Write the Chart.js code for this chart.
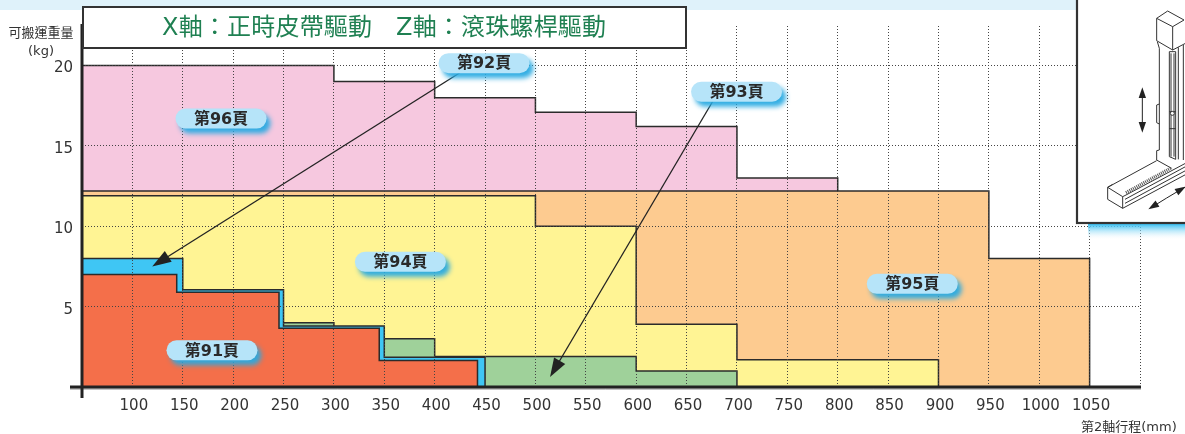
<!DOCTYPE html>
<html>
<head>
<meta charset="utf-8">
<script src="https://cdn.jsdelivr.net/npm/chart.js@4"></script>
<style>
    body { margin: 0; background: #fff; overflow: hidden; }
    #wrap { position: relative; width: 1185px; height: 434px; overflow: hidden; font-family: "DejaVu Sans", "Noto Sans CJK TC", sans-serif; }
    #band { position: absolute; left: 0; top: 0; width: 1185px; height: 10px; background: #dff2fa; }
    #myChart { position: absolute; left: 0; top: 0; }
    #title { position: absolute; left: 82px; top: 6px; width: 601px; height: 39px; background: #fff; border: 2px solid #333;
        color: #1f8052; font-size: 24px; letter-spacing: 0.2px; line-height: 39px; white-space: nowrap; }
    #title span { position: absolute; top: 0; }
    .note { position: absolute; color: #333; font-size: 13px; line-height: 16px; white-space: nowrap; }
</style>
</head>
<body>
<div id="wrap">
    <div id="band"></div>
    <canvas id="myChart" width="1185" height="434"></canvas>
    <div id="title"><span style="left:78px">X軸：正時皮帶驅動</span><span style="left:312px">Z軸：滾珠螺桿驅動</span></div>
    <div class="note" style="left:8px;top:25px;width:66px;text-align:center">可搬運重量</div>
    <div class="note" style="left:8px;top:43px;width:66px;text-align:center">(kg)</div>
    <div class="note" style="left:1081px;top:419px">第2軸行程(mm)</div>
</div>
<script>
// stroke (mm) where each step starts, and the load (kg) of that step
const redStroke = [50, 144, 245.5, 345, 442.5];
const redLoad = [7, 5.9, 3.65, 1.65, 0];
const blueStroke = [50, 150, 250, 350, 450];
const blueLoad = [8, 6.05, 3.8, 1.85, 0];
const greenStroke = [50, 300, 400, 600, 700];
const greenLoad = [4, 3, 1.9, 1, 0];
const yellowStroke = [50, 500, 600, 700, 900];
const yellowLoad = [11.9, 10, 3.9, 1.7, 0];
const orangeStroke = [50, 950, 1050];
const orangeLoad = [12.2, 8, 0];
const pinkStroke = [50, 300, 400, 500, 600, 700, 800];
const pinkLoad = [20, 19, 18, 17.1, 16.2, 13, 0];

const xTicks = [100, 150, 200, 250, 300, 350, 400, 450, 500, 550, 600, 650, 700, 750, 800, 850, 900, 950, 1000, 1050];
const yTicks = [5, 10, 15, 20];

function steps(xs, ys) {
    return xs.map((x, i) => ({ x: x, y: ys[i] }));
}

function series(xs, ys, color) {
    return {
        data: steps(xs, ys),
        stepped: 'before',
        fill: 'origin',
        backgroundColor: color,
        borderColor: '#2b2b2b',
        borderWidth: 1.5,
        pointRadius: 0
    };
}

// page labels and arrows, in chart units
const pageLabels = [
    { text: '第96頁', x: 188, y: 16.7 },
    { text: '第94頁', x: 366, y: 7.79 },
    { text: '第91頁', x: 179, y: 2.28 },
    { text: '第95頁', x: 874, y: 6.42 }
];
const arrows = [
    { from: [425, 19.55], to: [119.7, 7.5], text: '第92頁', x: 449, y: 20.15 },
    { from: [676, 17.78], to: [514.5, 0.62], text: '第93頁', x: 699.6, y: 18.37 }
];

function drawArrow(ctx, x1, y1, x2, y2, head = 20) {
    const a = Math.atan2(y2 - y1, x2 - x1);
    ctx.strokeStyle = '#222';
    ctx.fillStyle = '#222';
    ctx.lineWidth = head > 20 ? 3 : 1.3;
    ctx.beginPath();
    ctx.moveTo(x1, y1);
    ctx.lineTo(x2 - 0.7 * head * Math.cos(a), y2 - 0.7 * head * Math.sin(a));
    ctx.stroke();
    ctx.beginPath();
    ctx.moveTo(x2, y2);
    ctx.lineTo(x2 - head * Math.cos(a - 0.33), y2 - head * Math.sin(a - 0.33));
    ctx.lineTo(x2 - head * Math.cos(a + 0.33), y2 - head * Math.sin(a + 0.33));
    ctx.closePath();
    ctx.fill();
}

function drawBubble(ctx, text, cx, cy) {
    ctx.save();
    ctx.shadowColor = 'rgba(40, 170, 225, 0.95)';
    ctx.shadowBlur = 5;
    ctx.shadowOffsetX = 4;
    ctx.shadowOffsetY = 5;
    ctx.fillStyle = '#b6e4f9';
    ctx.beginPath();
    ctx.roundRect(cx - 45.5, cy - 10, 91, 20, 10);
    ctx.fill();
    ctx.restore();
    ctx.fillStyle = '#2a2a2a';
    ctx.textAlign = 'center';
    ctx.textBaseline = 'middle';
    ctx.font = 'bold 16px "DejaVu Sans", "Noto Sans CJK TC"';
    ctx.fillText(text, cx, cy + 1);
}

// little line drawing of the two axis unit, traced in a 3x grid
const sketchLines = [
    [[350, 55], [383, 33], [432, 60], [398, 80], [350, 55]],
    [[350, 55], [350, 122], [398, 150], [398, 80]],
    [[398, 150], [440, 128]],
    [[352, 125], [358, 145], [358, 450], [350, 452], [350, 480], [395, 505]],
    [[388, 155], [388, 470], [407, 478], [407, 155], [388, 155]],
    [[393, 160], [393, 470]],
    [[402, 160], [402, 470]],
    [[415, 142], [415, 478]],
    [[430, 135], [430, 480]],
    [[358, 312], [350, 315], [350, 368], [358, 372]],
    [[388, 335], [407, 335]],
    [[388, 386], [407, 386]],
    [[203, 562], [350, 482]],
    [[203, 562], [203, 598], [248, 625], [248, 590], [203, 562]],
    [[203, 562], [218, 553]],
    [[248, 590], [258, 585], [440, 488]],
    [[248, 625], [440, 522]],
    [[255, 610], [440, 510]],
    [[255, 598], [440, 498]]
];

function drawSketch(ctx) {
    ctx.save();
    ctx.strokeStyle = '#333';
    ctx.lineWidth = 2.2;
    const g = ctx.createLinearGradient(0, 224, 0, 240);
    g.addColorStop(0, '#35bdf0');
    g.addColorStop(1, 'rgba(255, 255, 255, 0)');
    ctx.fillStyle = g;
    ctx.fillRect(1088, 224, 97, 16);
    ctx.fillStyle = '#fff';
    ctx.fillRect(1077, -2, 112, 225);
    ctx.strokeRect(1077, -2, 112, 225);
    ctx.beginPath();
    ctx.rect(1078, 0, 107, 222);
    ctx.clip();
    ctx.translate(1040, 0);
    ctx.scale(1 / 3, 1 / 3);
    ctx.lineWidth = 3;
    sketchLines.forEach(line => {
        ctx.beginPath();
        line.forEach((p, i) => (i ? ctx.lineTo(p[0], p[1]) : ctx.moveTo(p[0], p[1])));
        ctx.stroke();
    });
    ctx.setLineDash([3, 3]);
    ctx.lineWidth = 10;
    ctx.strokeStyle = '#555';
    ctx.beginPath();
    ctx.moveTo(258, 578);
    ctx.lineTo(395, 503);
    ctx.stroke();
    ctx.setLineDash([]);
    ctx.beginPath();
    ctx.arc(397, 340, 6, 0, Math.PI * 2);
    ctx.fillStyle = '#fff';
    ctx.fill();
    ctx.lineWidth = 3;
    ctx.strokeStyle = '#333';
    ctx.stroke();
    // the two double arrows
    drawArrow(ctx, 307, 330, 307, 262, 34);
    drawArrow(ctx, 307, 330, 307, 398, 34);
    drawArrow(ctx, 380, 594, 325, 628, 34);
    drawArrow(ctx, 380, 594, 437, 560, 34);
    ctx.restore();
}

const overlay = {
    id: 'overlay',
    afterDraw(chart) {
        const ctx = chart.ctx;
        const sx = chart.scales.x;
        const sy = chart.scales.y;
        ctx.save();
        // heavy axes, they run past the plot at the corner
        ctx.strokeStyle = '#8a8a8a';
        ctx.lineWidth = 1;
        ctx.beginPath();
        ctx.moveTo(70, sy.getPixelForValue(0) + 2);
        ctx.lineTo(sx.right + 1, sy.getPixelForValue(0) + 2);
        ctx.stroke();
        ctx.strokeStyle = '#222';
        ctx.lineWidth = 3;
        ctx.beginPath();
        ctx.moveTo(sx.left, sy.top - 2);
        ctx.lineTo(sx.left, sy.bottom + 11);
        ctx.moveTo(70, sy.getPixelForValue(0));
        ctx.lineTo(sx.right + 1, sy.getPixelForValue(0));
        ctx.stroke();
        drawSketch(ctx);
        arrows.forEach(a => {
            drawArrow(ctx, sx.getPixelForValue(a.from[0]), sy.getPixelForValue(a.from[1]),
                sx.getPixelForValue(a.to[0]), sy.getPixelForValue(a.to[1]));
            drawBubble(ctx, a.text, sx.getPixelForValue(a.x), sy.getPixelForValue(a.y));
        });
        pageLabels.forEach(l => drawBubble(ctx, l.text, sx.getPixelForValue(l.x), sy.getPixelForValue(l.y)));
        ctx.restore();
    }
};

document.addEventListener('DOMContentLoaded', function () {
    new Chart(document.getElementById('myChart'), {
        type: 'line',
        data: {
            datasets: [
                series(redStroke, redLoad, '#f46f4a'),
                series(blueStroke, blueLoad, '#3fc6f4'),
                series(greenStroke, greenLoad, '#9fd19a'),
                series(yellowStroke, yellowLoad, '#fff494'),
                series(orangeStroke, orangeLoad, '#fdcb90'),
                series(pinkStroke, pinkLoad, '#f6c8df')
            ]
        },
        options: {
            responsive: false,
            animation: false,
            layout: { padding: { top: 26, right: 45 } },
            plugins: { legend: { display: false }, tooltip: { enabled: false } },
            scales: {
                x: {
                    type: 'linear',
                    min: 50,
                    max: 1100,
                    afterFit(scale) { scale.height = 47; scale.paddingLeft = 0; scale.paddingRight = 0; },
                    border: { display: false, dash: [1, 2] },
                    grid: { z: 1, color: '#444', lineWidth: 1, drawTicks: false },
                    ticks: {
                        stepSize: 50,
                        autoSkip: false,
                        maxRotation: 0,
                        padding: 10,
                        labelOffset: 1.5,
                        color: '#333',
                        font: { family: '"DejaVu Sans"', size: 15 },
                        callback: v => (xTicks.includes(v) ? String(v) : '')
                    }
                },
                y: {
                    min: 0,
                    max: 22.46,
                    afterFit(scale) { scale.width = 82; scale.paddingTop = 0; scale.paddingBottom = 0; },
                    border: { display: false, dash: [1, 2] },
                    grid: { z: 1, color: '#444', lineWidth: 1, drawTicks: false },
                    ticks: {
                        stepSize: 5,
                        includeBounds: false,
                        padding: 9,
                        labelOffset: 3,
                        color: '#333',
                        font: { family: '"DejaVu Sans"', size: 15 },
                        callback: v => (yTicks.includes(v) ? String(v) : '')
                    }
                }
            }
        },
        plugins: [overlay]
    });
});
</script>
</body>
</html>
